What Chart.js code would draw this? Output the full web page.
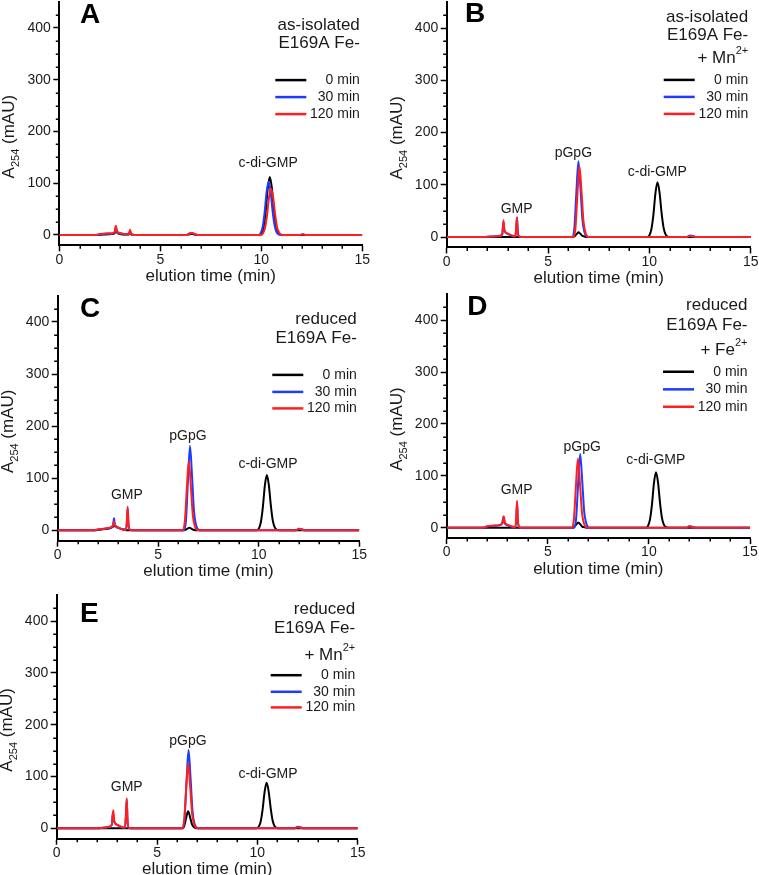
<!DOCTYPE html>
<html><head><meta charset="utf-8">
<script src="https://cdn.jsdelivr.net/npm/chart.js@4.4.1/dist/chart.umd.min.js"></script>
<style>
html,body{margin:0;padding:0;background:#fff;width:759px;height:875px;overflow:hidden;position:relative;}
canvas{position:absolute;}
</style></head><body>
<script>
// ---------- data ----------
const seriesNames = ['0 min', '30 min', '120 min'];
const xMajorTicks = [0, 5, 10, 15];
const xMinorTicks = [1, 2, 3, 4, 6, 7, 8, 9, 11, 12, 13, 14];
const yMajorTicks = [0, 100, 200, 300, 400];
const yMinorTicks = [25, 50, 75, 125, 150, 175, 225, 250, 275, 325, 350, 375, 425];

// Panel A: as-isolated E169A Fe-
const A_0min = [[0,0],[1.8,0],[2.2,1],[2.6,2],[2.75,4],[2.8,12],[2.86,5],[3.0,2],[3.3,1],[3.45,1],[3.5,6],[3.55,1],[3.7,0],[6.3,0],[6.5,2],[6.6,2],[6.8,0],[9.92,0],[10.02,3],[10.12,16],[10.22,46],[10.32,90],[10.42,112],[10.52,92],[10.62,50],[10.72,19],[10.82,6],[10.92,1],[11.02,0],[15,0]];
const A_30min = [[0,0],[1.8,0],[2.2,2],[2.6,3],[2.75,5],[2.8,15],[2.86,6],[3.0,3],[3.3,1],[3.45,2],[3.5,8],[3.55,2],[3.7,0],[6.3,0],[6.45,3],[6.55,4],[6.7,1],[6.85,0],[9.86,0],[9.96,3],[10.06,14],[10.16,42],[10.26,82],[10.36,103],[10.46,84],[10.56,46],[10.66,18],[10.76,5],[10.86,1],[10.96,0],[11.9,0],[12.05,1.5],[12.2,0],[15,0]];
const A_120min = [[0,0],[1.8,0],[2.0,2],[2.3,3],[2.6,3],[2.74,6],[2.8,18],[2.85,7],[3.0,4],[3.3,1.5],[3.44,2],[3.5,10],[3.56,2],[3.7,0],[6.35,0],[6.5,4],[6.6,4],[6.75,1],[6.9,0],[9.98,0],[10.08,3],[10.18,13],[10.28,37],[10.38,72],[10.48,90],[10.58,74],[10.68,41],[10.78,15],[10.88,5],[10.98,1],[11.08,0],[11.9,0],[12.05,1.5],[12.2,0],[15,0]];

// Panel B: as-isolated E169A Fe- + Mn2+
const B_0min = [[0,0],[6.2,0],[6.3,1],[6.4,5],[6.5,9],[6.6,6],[6.7,2],[6.8,1],[6.9,0],[9.9,0],[10.0,3],[10.1,15],[10.2,43],[10.3,84],[10.4,105],[10.5,86],[10.6,47],[10.7,18],[10.8,5],[10.9,1],[11.0,0],[15,0]];
const B_30min = [[0,0],[1.8,0],[2.2,1],[2.6,2],[2.74,5],[2.8,28],[2.85,12],[3.0,6],[3.2,3],[3.38,1],[3.43,15],[3.47,38],[3.51,10],[3.58,1],[3.7,0],[6.2,0],[6.3,17],[6.4,87],[6.5,145],[6.6,94],[6.7,32],[6.8,9],[6.9,1],[7.0,0],[11.85,0],[12.0,3],[12.15,2],[12.3,0],[15,0]];
const B_120min = [[0,0],[1.8,0],[2.2,1],[2.6,2],[2.74,5],[2.8,32],[2.85,13],[3.0,7],[3.2,3],[3.38,1],[3.42,12],[3.46,37],[3.5,10],[3.57,1],[3.7,0],[6.25,0],[6.35,16],[6.45,81],[6.55,135],[6.65,88],[6.75,30],[6.85,8],[6.95,1],[7.05,0],[11.85,0],[12.0,2],[12.15,1],[12.3,0],[15,0]];

// Panel C: reduced E169A Fe-
const C_0min = [[0,0],[1.8,0],[2.2,2],[2.6,4],[2.85,8],[3.0,5],[3.3,1],[3.5,0],[6.25,0],[6.35,1],[6.45,3],[6.55,5],[6.65,3],[6.75,1],[6.9,0],[9.9,0],[10.0,3],[10.1,15],[10.2,43],[10.3,85],[10.4,106],[10.5,87],[10.6,48],[10.7,18],[10.8,5],[10.9,1],[11.0,0],[15,0]];
const C_30min = [[0,0],[1.8,0],[2.2,2],[2.5,4],[2.7,6],[2.76,12],[2.8,23],[2.85,10],[3.0,5],[3.2,2],[3.4,1],[3.45,20],[3.48,42],[3.52,12],[3.6,1],[3.7,0],[6.28,0],[6.38,19],[6.48,97],[6.58,162],[6.68,105],[6.78,36],[6.88,10],[6.98,2],[7.08,0],[11.85,0],[12.0,3],[12.15,2],[12.3,0],[15,0]];
const C_120min = [[0,0],[1.8,0],[2.0,2],[2.3,3],[2.6,5],[2.74,9],[2.8,17],[2.85,9],[3.0,5],[3.2,2],[3.4,1],[3.44,20],[3.48,45],[3.52,12],[3.6,1],[3.7,0],[6.22,0],[6.32,16],[6.42,79],[6.52,132],[6.62,86],[6.72,29],[6.82,8],[6.92,1],[7.02,0],[11.85,0],[12.0,3],[12.15,1],[12.3,0],[15,0]];

// Panel D: reduced E169A Fe- + Fe2+
const D_0min = [[0,0],[6.2,0],[6.3,1],[6.4,6],[6.5,10],[6.6,7],[6.7,2],[6.8,1],[6.9,0],[9.85,0],[9.95,3],[10.05,15],[10.15,44],[10.25,86],[10.35,107],[10.45,88],[10.55,48],[10.65,18],[10.75,5],[10.85,1],[10.95,0],[15,0]];
const D_30min = [[0,0],[1.8,0],[2.1,3],[2.5,4],[2.74,8],[2.8,20],[2.86,9],[3.0,5],[3.2,2],[3.4,1],[3.45,22],[3.48,48],[3.52,12],[3.6,1],[3.7,0],[6.3,0],[6.4,17],[6.5,85],[6.6,142],[6.7,92],[6.8,31],[6.9,9],[7.0,1],[7.1,0],[11.85,0],[12.0,3],[12.15,2],[12.3,0],[15,0]];
const D_120min = [[0,0],[1.8,0],[2.0,3],[2.3,4],[2.6,5],[2.76,9],[2.82,22],[2.88,10],[3.0,6],[3.2,3],[3.4,1],[3.44,22],[3.48,52],[3.52,14],[3.6,1],[3.7,0],[6.19,0],[6.29,16],[6.39,80],[6.49,133],[6.59,86],[6.69,29],[6.79,8],[6.89,1],[6.99,0],[11.85,0],[12.0,3],[12.15,1],[12.3,0],[15,0]];

// Panel E: reduced E169A Fe- + Mn2+
const E_0min = [[0,0],[6.25,0],[6.35,4],[6.45,20],[6.55,33],[6.65,21],[6.75,7],[6.85,2],[6.95,0],[9.96,0],[10.06,3],[10.16,12],[10.26,36],[10.36,70],[10.46,88],[10.56,72],[10.66,40],[10.76,15],[10.86,4],[10.96,1],[11.06,0],[15,0]];
const E_30min = [[0,0],[2.0,0],[2.5,2],[2.74,6],[2.8,30],[2.86,13],[3.0,7],[3.2,3],[3.4,1],[3.45,25],[3.49,55],[3.53,14],[3.6,1],[3.7,0],[6.27,0],[6.37,18],[6.47,91],[6.57,151],[6.67,98],[6.77,33],[6.87,9],[6.97,2],[7.07,0],[11.85,0],[12.0,3],[12.15,2],[12.3,0],[15,0]];
const E_120min = [[0,0],[2.0,0],[2.5,2],[2.74,6],[2.82,35],[2.87,14],[3.0,7],[3.2,3],[3.4,1],[3.45,25],[3.49,58],[3.53,15],[3.6,1],[3.7,0],[6.25,0],[6.35,15],[6.45,75],[6.55,125],[6.65,81],[6.75,28],[6.85,8],[6.95,1],[7.05,0],[11.85,0],[12.0,2],[12.15,1],[12.3,0],[15,0]];

// ---------- text / annotations (content) ----------
const panelLetters = ['A', 'B', 'C', 'D', 'E'];
const panelConditions = [
  [[['as-isolated']], [['E169A Fe-']]],
  [[['as-isolated']], [['E169A Fe-']], [['+ Mn'], ['2+', 1]]],
  [[['reduced']], [['E169A Fe-']]],
  [[['reduced']], [['E169A Fe-']], [['+ Fe'], ['2+', 1]]],
  [[['reduced']], [['E169A Fe-']], [['+ Mn'], ['2+', 1]]]
];
// peak labels: [text, x (min), y (mAU)]
const peakLabels = [
  [['c-di-GMP', 10.34, 138]],
  [['GMP', 3.45, 53], ['pGpG', 6.25, 160], ['c-di-GMP', 10.39, 124]],
  [['GMP', 3.44, 68], ['pGpG', 6.48, 180], ['c-di-GMP', 10.46, 127]],
  [['GMP', 3.46, 72], ['pGpG', 6.7, 156], ['c-di-GMP', 10.34, 130]],
  [['GMP', 3.49, 79], ['pGpG', 6.54, 169], ['c-di-GMP', 10.53, 105]]
];
const panelSeries = [
  [A_0min, A_30min, A_120min],
  [B_0min, B_30min, B_120min],
  [C_0min, C_30min, C_120min],
  [D_0min, D_30min, D_120min],
  [E_0min, E_30min, E_120min]
];

// ---------- layout / style ----------
const FONT = "'Liberation Sans', Arial, Helvetica, sans-serif";
const TEXT = '#1a1a1a';
const seriesColors = ['#000000', '#1f3bff', '#ff1f1f'];
// plot rectangles in page px: [left, right, top, bottom]
const plotRects = [
  [59.3, 362.3, 2.1, 245.35],
  [446.7, 750.7, 1.9, 247.45],
  [57.7, 359.3, 295.9, 540.7],
  [446.7, 750.0, 294.15, 538.1],
  [56.7, 357.7, 595.2, 838.7]
];
const condLayout = [ [23, 41], [15, 33, 56], [23, 42], [11, 31, 56], [14, 33, 60] ];
const legendLayout = [ [78, 95, 112], [78, 95, 112], [79, 96, 112.5], [77.6, 95.2, 112.6], [80, 96.6, 112.2] ];
const letterLayout = [ [20.7, 13], [18.3, 12.3], [22.3, 13.2], [20.6, 13.4], [23.3, 19.1] ];
const YW = 45, XH = 41;

function fnt(size, bold) { return (bold ? 'bold ' : '') + size + 'px ' + FONT; }

function drawRich(ctx, segs, x, y, size, align) {
  const supSize = Math.round(size * 0.62);
  const widths = segs.map(s => { ctx.font = fnt(s[1] ? supSize : size); return ctx.measureText(s[0]).width; });
  const total = widths.reduce((a, b) => a + b, 0);
  let cx = align === 'right' ? x - total : (align === 'center' ? x - total / 2 : x);
  ctx.textAlign = 'left';
  segs.forEach((s, i) => {
    ctx.font = fnt(s[1] ? supSize : size);
    let dy = 0;
    if (s[1] === 1) dy = -size * 0.42;
    if (s[1] === -1) dy = size * 0.3;
    ctx.fillText(s[0], cx, y + dy);
    cx += widths[i];
  });
}

const decor = {
  id: 'decor',
  afterDraw(chart) {
    const p = chart.options.plugins.decor;
    const ctx = chart.ctx, ca = chart.chartArea;
    const xs = chart.scales.x, ys = chart.scales.y;
    ctx.save();
    // minor ticks
    ctx.strokeStyle = '#000'; ctx.lineWidth = 1.5;
    ctx.beginPath();
    xMinorTicks.forEach(v => { const px = Math.round(xs.getPixelForValue(v)) + 0.25; ctx.moveTo(px, ca.bottom); ctx.lineTo(px, ca.bottom + 3.5); });
    yMinorTicks.forEach(v => { const py = Math.round(ys.getPixelForValue(v)) + 0.25; ctx.moveTo(ca.left, py); ctx.lineTo(ca.left - 3.5, py); });
    ctx.stroke();
    ctx.fillStyle = TEXT;
    ctx.textBaseline = 'middle';
    // y-axis title with subscript
    ctx.save();
    ctx.translate(ca.left - 45, ys.getPixelForValue(190));
    ctx.rotate(-Math.PI / 2);
    ctx.textBaseline = 'alphabetic';
    drawRich(ctx, [['A'], ['254', -1], [' (mAU)']], 0, 0, 17, 'center');
    ctx.restore();
    // panel letter
    ctx.font = fnt(28, true); ctx.textAlign = 'left'; ctx.fillStyle = '#000';
    ctx.fillText(p.letter, ca.left + p.letterPos[0], ca.top + p.letterPos[1]);
    ctx.fillStyle = TEXT;
    // condition text
    p.cond.forEach((line, i) => drawRich(ctx, line, ca.right - 2.5, ca.top + p.condY[i], 17, 'right'));
    // legend
    chart.data.datasets.forEach((ds, i) => {
      const y = ca.top + p.legendY[i];
      ctx.strokeStyle = ds.borderColor; ctx.lineWidth = 2.5;
      ctx.beginPath(); ctx.moveTo(ca.right - 87, y); ctx.lineTo(ca.right - 56, y); ctx.stroke();
      ctx.font = fnt(14); ctx.textAlign = 'right'; ctx.fillStyle = TEXT;
      ctx.fillText(ds.label, ca.right - 2.5, y);
    });
    // peak labels
    ctx.font = fnt(14); ctx.textAlign = 'center';
    p.peaks.forEach(pk => ctx.fillText(pk[0], xs.getPixelForValue(pk[1]), ys.getPixelForValue(pk[2])));
    ctx.restore();
  }
};

Chart.register(decor);

panelSeries.forEach((series, k) => {
  const [l, r, t, b] = plotRects[k];
  const cl = Math.floor(l) - 62, ct = Math.floor(t) - 25;
  const cr = Math.ceil(r) + 25, cb = Math.ceil(b) + 55;
  const cv = document.createElement('canvas');
  cv.width = cr - cl; cv.height = cb - ct;
  cv.style.left = cl + 'px'; cv.style.top = ct + 'px';
  cv.style.width = (cr - cl) + 'px'; cv.style.height = (cb - ct) + 'px';
  document.body.appendChild(cv);
  const axisCommon = {
    type: 'linear',
    grid: { drawOnChartArea: false, drawTicks: true, tickLength: 6, tickWidth: 1.5, tickColor: '#000' },
    border: { display: true, color: '#000', width: 2 }
  };
  new Chart(cv, {
    type: 'line',
    data: {
      datasets: series.map((d, i) => ({
        label: seriesNames[i], data: d, borderColor: seriesColors[i], backgroundColor: seriesColors[i],
        borderWidth: 2, pointRadius: 0, fill: false, cubicInterpolationMode: 'monotone', order: 2 - i
      }))
    },
    options: {
      responsive: false, animation: false, devicePixelRatio: 1,
      layout: { padding: { left: l - cl - YW, right: cr - r, top: t - ct, bottom: cb - b - XH } },
      plugins: {
        legend: { display: false }, tooltip: { enabled: false },
        decor: { letter: panelLetters[k], letterPos: letterLayout[k], cond: panelConditions[k], condY: condLayout[k], legendY: legendLayout[k], peaks: peakLabels[k] }
      },
      scales: {
        x: Object.assign({}, axisCommon, {
          min: 0, max: 15,
          afterBuildTicks: s => { s.ticks = xMajorTicks.map(v => ({ value: v })); },
          afterFit: s => { s.height = XH; },
          ticks: { color: TEXT, font: { size: 14, family: FONT }, padding: 0, maxRotation: 0, autoSkip: false },
          title: { display: true, text: 'elution time (min)', color: TEXT, font: { size: 17, family: FONT }, padding: 0 }
        }),
        y: Object.assign({}, axisCommon, {
          min: -20, max: 450,
          afterBuildTicks: s => { s.ticks = yMajorTicks.map(v => ({ value: v })); },
          afterFit: s => { s.width = YW; },
          ticks: { color: TEXT, font: { size: 14, family: FONT }, padding: 2.5, autoSkip: false }
        })
      }
    }
  });
});
</script>
</body></html>
